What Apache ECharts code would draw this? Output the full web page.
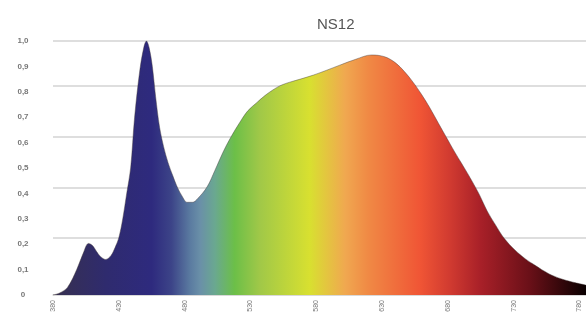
<!DOCTYPE html>
<html>
<head>
<meta charset="utf-8">
<script src="https://cdn.jsdelivr.net/npm/echarts@6/dist/echarts.min.js"></script>
<style>
  html, body { margin: 0; padding: 0; background: #fff; }
  #chart { width: 586px; height: 318px; }
</style>
</head>
<body>
<div id="chart"></div>
<script>
// 波长 (nm)
const wavelengths = [380, 385, 391, 398, 403, 407, 410, 413, 416, 420, 424, 427, 430, 433, 436, 439, 442, 446, 449, 451,
  453, 455.5, 458, 461, 464, 467.5, 471, 474, 478, 482, 486, 490, 497, 503, 509, 515, 522, 528, 535, 541,
  547, 553, 560, 568, 578, 588, 598, 610, 622, 632, 640, 647, 654, 660, 666, 673, 679, 685, 692, 698,
  704, 710, 716, 723, 731, 739, 746, 757, 769, 785];
// 相对强度
const intensity = [0, 0.008, 0.03, 0.1, 0.165, 0.203, 0.195, 0.172, 0.152, 0.14, 0.155, 0.185, 0.225, 0.3, 0.4, 0.5, 0.7, 0.886, 0.975, 1.0,
  0.975, 0.9, 0.78, 0.66, 0.585, 0.52, 0.47, 0.43, 0.39, 0.365, 0.365, 0.38, 0.425, 0.49, 0.56, 0.62, 0.68, 0.725, 0.758, 0.785,
  0.807, 0.825, 0.838, 0.85, 0.866, 0.885, 0.905, 0.928, 0.945, 0.938, 0.915, 0.88, 0.835, 0.79, 0.74, 0.675, 0.62, 0.565, 0.505, 0.452,
  0.395, 0.33, 0.278, 0.222, 0.177, 0.142, 0.118, 0.083, 0.059, 0.039];
// 刻度标签
const xTicks = [380, 430, 480, 530, 580, 630, 680, 730, 780];
const yTicks = ["0", "0,1", "0,2", "0,3", "0,4", "0,5", "0,6", "0,7", "0,8", "0,9", "1,0"];

const xMin = 380, xMax = 785;
// 光谱颜色 (波长 -> 颜色)
const spectrum = [
  [380, "#37304f"], [420, "#2f2b6e"], [455, "#2e2a7e"], [470, "#3c4488"], [484, "#5a7aa0"],
  [492, "#6a90a8"], [503, "#6aa890"], [518, "#6cbf48"], [537, "#a0c848"], [575, "#d8e030"],
  [602, "#f0a850"], [619, "#f08a45"], [659, "#f05535"], [682, "#d03a30"], [705, "#a82028"],
  [742, "#6a1018"], [785, "#0a0000"]
];

const grey = "#dedede";
const chart = echarts.init(document.getElementById("chart"));
chart.setOption({
  animation: false,
  title: {
    text: "NS12",
    left: 312,
    top: 12,
    textStyle: { fontFamily: "Liberation Sans", fontSize: 15, fontWeight: "normal", color: "#555" }
  },
  grid: { left: 53, right: 0, top: 41, bottom: 23 },
  xAxis: {
    type: "value",
    min: xMin,
    max: xMax,
    interval: 50,
    axisLine: { show: true, lineStyle: { color: "#d8d8d8", width: 1.5 } },
    axisTick: { show: false },
    splitLine: { show: false },
    axisLabel: {
      rotate: 90,
      margin: 5,
      fontSize: 7,
      color: "#777",
      fontFamily: "Liberation Sans",
      showMaxLabel: false,
      formatter: v => (xTicks.indexOf(v) >= 0 ? String(v) : "")
    }
  },
  yAxis: [
    {
      type: "value",
      min: 0,
      max: 1,
      interval: 0.1,
      axisLine: { show: false },
      axisTick: { show: false },
      splitLine: { show: false },
      axisLabel: {
        align: "center",
        margin: 30,
        fontSize: 8,
        fontWeight: "bold",
        color: "#777",
        fontFamily: "Liberation Sans",
        formatter: v => yTicks[Math.round(v * 10)]
      }
    },
    {
      // 网格线 (原图略高于标签)
      type: "value",
      min: -0.024,
      max: 0.976,
      position: "left",
      axisLine: { show: false },
      axisTick: { show: false },
      axisLabel: { show: false },
      splitLine: {
        show: true,
        lineStyle: {
          color: [grey, "rgba(0,0,0,0)", grey, grey, grey, grey, grey, grey, grey, grey, grey, grey],
          width: 2
        }
      }
    }
  ],
  series: [
    {
      type: "line",
      data: wavelengths.map((w, i) => [w, intensity[i]]),
      smooth: 0.35,
      showSymbol: false,
      lineStyle: { color: "rgba(70,60,60,0.55)", width: 0.8 },
      areaStyle: {
        opacity: 1,
        color: new echarts.graphic.LinearGradient(0, 0, 1, 0,
          spectrum.map(s => ({ offset: (s[0] - xMin) / (xMax - xMin), color: s[1] })))
      }
    }
  ]
});
</script>
</body>
</html>
